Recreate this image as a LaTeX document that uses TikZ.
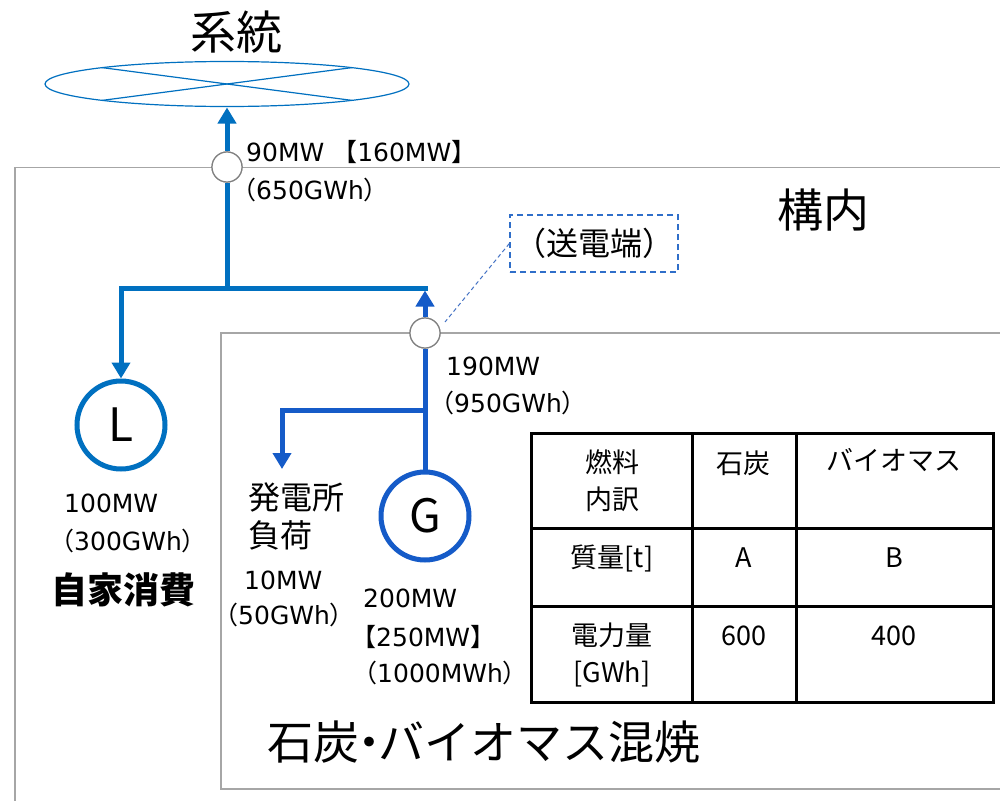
\documentclass[tikz,border=0pt]{standalone}
\usepackage{fontspec}
\setmainfont{Noto Sans CJK JP}
\newfontfamily\lat{DejaVu Sans}
\usetikzlibrary{arrows.meta,shapes.geometric,calc}
\definecolor{outblue}{HTML}{0070C0}
\definecolor{inblue}{HTML}{155BC8}
\definecolor{dashblue}{HTML}{2F6EC9}
\definecolor{leadblue}{HTML}{4472C4}
\definecolor{boxgray}{HTML}{A6A6A6}
\definecolor{jgray}{HTML}{808080}
\begin{document}
\begin{tikzpicture}[x=1pt,y=-1pt,
  tri/.style={-{Triangle[width=18pt,length=16pt]}},
  outline/.style={outblue,line width=5pt},
  inline/.style={inblue,line width=5pt},
  junction/.style={circle,draw=jgray,fill=white,line width=1.2pt,minimum size=30pt,inner sep=0pt},
  machine/.style={circle,line width=5pt,minimum size=88pt,inner sep=0pt,fill=white,font=\fontsize{46}{50}\selectfont},
  lbl/.style={anchor=west,inner sep=0pt,font=\fontsize{25}{30}\selectfont},
  jlbl/.style={anchor=west,inner sep=0pt,font=\fontsize{32}{36}\selectfont},
  big/.style={inner sep=0pt,font=\fontsize{46}{50}\selectfont},
  cell/.style={inner sep=0pt,align=center,font=\fontsize{27}{37}\selectfont},
  region/.style={boxgray,line width=1.3pt}
]
\fill[white] (0,0) rectangle (1000,800);
\useasboundingbox (0,0) rectangle (1000,800);

% regions
\draw[region] (15,810) -- (15,167.5) -- (1010,167.5);
\draw[region] (1010,789) -- (221,789) -- (221,333) -- (1010,333);

% grid (系統)
\node[big] (title) at (236,32) {系統};
\node[draw=outblue,line width=1.2pt,ellipse,minimum width=364pt,minimum height=45pt,inner sep=0pt] (grid) at (227,84) {};
\draw[outblue,line width=1.2pt] ($(grid.center)+(-125,-16.4)$) -- ($(grid.center)+(125,16.4)$);
\draw[outblue,line width=1.2pt] ($(grid.center)+(-125,16.4)$) -- ($(grid.center)+(125,-16.4)$);

% nodes
\node[junction] (j1) at (227,167) {};
\node[junction] (j2) at (425,333) {};
\node[machine,draw=outblue] (L) at (121,425) {L};
\node[machine,draw=inblue] (G) at (425,516) {G};
\coordinate (t1) at (227,288);
\coordinate (t2) at (427.5,288);
\coordinate (t2a) at (425,290.5);
\coordinate (t3) at (425,410);
\coordinate (ld) at (282,469);
\coordinate (gridin) at (227,107.5);

% connectors
\draw[outline] (t1) -- (t2);
\draw[outline] (j1.south) -- (t1);
\draw[outline,tri] (t1) -| (L.north);
\draw[inline,tri] (j2.north) -- (t2a);
\draw[inline] (G.north) -- (j2.south);
\draw[inline,tri] (t3) -| (ld);
\draw[outline,tri] (j1.north) -- (gridin);
\node[junction] at (j1) {};
\node[junction] at (j2) {};

% callout
\node[draw=dashblue,line width=1.3pt,dash pattern=on 6pt off 4pt,minimum width=168pt,minimum height=57pt,inner sep=0pt,font=\fontsize{32}{36}\selectfont] (sdb) at (594,243.5) {（送電端）};
\coordinate (lead) at (445,322);
\draw[leadblue,line width=1pt,dash pattern=on 4pt off 3pt] (sdb.west) -- (lead);

% labels
\node[lbl] (l90) at (246,152) {{\lat 90MW }【{\lat 160MW}】};
\node[lbl] (l650) at (231,190) {（{\lat 650GWh}）};
\node[big] (kounai) at (823,210) {構内};
\node[lbl] (l190) at (446,366) {{\lat 190MW}};
\node[lbl] (l950) at (429,403) {（{\lat 950GWh}）};
\node[lbl] (l100) at (64,503) {{\lat 100MW}};
\node[lbl] (l300) at (49,541) {（{\lat 300GWh}）};
\node[inner sep=0pt,font=\fontsize{36}{40}\selectfont\bfseries] (jika) at (123,590) {自家消費};
\node[jlbl] (hatsu) at (248,497) {発電所};
\node[jlbl] (fuka) at (248,535) {負荷};
\node[lbl] (l10) at (244,580) {{\lat 10MW}};
\node[lbl] (l50) at (213,615) {（{\lat 50GWh}）};
\node[lbl] (l200) at (363,598) {{\lat 200MW}};
\node[lbl] (l250) at (351,637) {【{\lat 250MW}】};
\node[lbl] (l1000) at (352,673) {（{\lat 1000MWh}）};
\node[big] (konsho) at (484,742) {石炭\hspace{-0.3em}・\hspace{-0.3em}バイオマス混焼};

% table
\draw[black,line width=3pt] (531,433) rectangle (993,702);
\draw[black,line width=3pt] (692,433) -- (692,702);
\draw[black,line width=3pt] (796,433) -- (796,702);
\draw[black,line width=3pt] (531,528) -- (993,528);
\draw[black,line width=3pt] (531,606) -- (993,606);
\node[cell] (c11) at (612,481) {燃料\\内訳};
\node[cell] (c12) at (743,463) {石炭};
\node[cell] (c13) at (894,460) {バイオマス};
\node[cell] (c21) at (612,558) {質量[t]};
\node[cell] (c22) at (744,558) {A};
\node[cell] (c23) at (894,558) {B};
\node[cell] (c31) at (612,655) {電力量\\{[GWh]}};
\node[cell] (c32) at (744,636) {600};
\node[cell] (c33) at (894,636) {400};
\end{tikzpicture}
\end{document}
